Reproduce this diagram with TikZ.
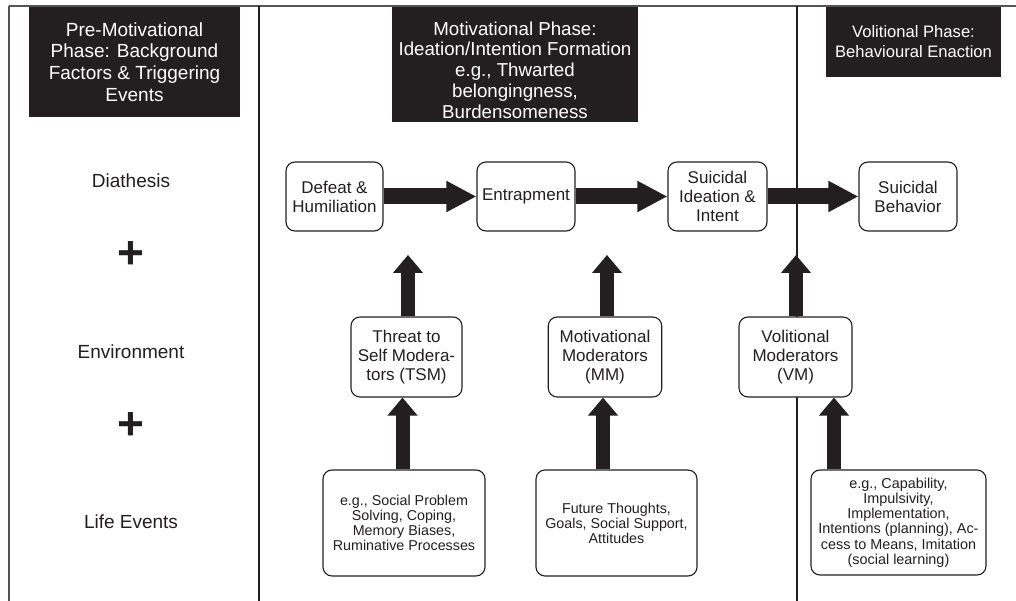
\documentclass[tikz,border=0pt]{standalone}
\usepackage{fontspec}
\setmainfont{Liberation Sans}
\usetikzlibrary{arrows.meta,calc}
\definecolor{ink}{HTML}{231F20}
\definecolor{framegray}{HTML}{555555}
\tikzset{
  hdr/.style={fill=ink, text=white, inner sep=0pt, align=center},
  box/.style={draw=ink, line width=1.1pt, rounded corners=9pt, fill=white, align=center, inner sep=0pt, text=ink},
  mainf/.style={font=\fontsize{17}{19}\selectfont},
  smallf/.style={font=\fontsize{14.3}{15}\selectfont},
  hbig/.style={line width=16pt, draw=ink, -{Triangle[length=30pt,width=29pt]}},
  vbig/.style={line width=14pt, draw=ink, -{Triangle[length=18pt,width=29pt]}},
  framerule/.style={draw=framegray, line width=1.5pt},
  divrule/.style={draw=ink, line width=1.2pt},
  side/.style={text=ink, font=\fontsize{19}{22}\selectfont},
  plussign/.style={text=ink, inner sep=0pt, font=\fontsize{46}{46}\selectfont\bfseries},
}
\begin{document}
\begin{tikzpicture}[x=1pt,y=-1pt]
\useasboundingbox (0,0) rectangle (1016,601);
\fill[white] (0,0) rectangle (1016,601);
% frame and dividers
\draw[framerule] (9,6) -- (1016,6);
\draw[framerule] (9,6) -- (9,601);
\draw[divrule] (259,6) -- (259,601);
\draw[divrule] (797,6) -- (797,601);
% headers
\node[hdr, minimum width=211pt, minimum height=110pt, font=\fontsize{19}{21.7}\selectfont] (h1) at (134.5,62)
  {Pre-Motivational\\Phase: Background\\Factors \& Triggering\\Events};
\node[hdr, minimum width=246pt, minimum height=115pt] (h2) at (515,64.5) {};
\node[text=white, inner sep=0pt, align=center, font=\fontsize{18.7}{20.8}\selectfont] (h2t) at (515,70)
  {Motivational Phase:\\Ideation/Intention Formation\\e.g., Thwarted\\belongingness,\\Burdensomeness};
\node[hdr, minimum width=175pt, minimum height=70pt, font=\fontsize{16.6}{20}\selectfont] (h3) at (913.5,42)
  {Volitional Phase:\\Behavioural Enaction};
% left column
\node[side] (dia) at (131,181) {Diathesis};
\node[plussign] (p1) at (131,255) {+};
\node[side] (env) at (131,352) {Environment};
\node[plussign] (p2) at (131,426) {+};
\node[side] (life) at (131,522) {Life Events};
% main chain
\node[box, mainf, minimum width=97pt, minimum height=69pt] (d) at (334.5,196.5) {Defeat \&\\Humiliation};
\node[box, mainf, minimum width=98pt, minimum height=69pt] (e) at (526,196.5) {Entrapment};
\node[box, mainf, minimum width=99pt, minimum height=69pt] (si) at (717.5,196.5) {Suicidal\\Ideation \&\\Intent};
\node[box, mainf, minimum width=98pt, minimum height=69pt] (sb) at (908,196.5) {Suicidal\\Behavior};
\draw[hbig] (d.east) -- (e.west);
\draw[hbig] (e.east) -- (si.west);
\draw[hbig] (si.east) -- (sb.west);
% moderators
\node[box, mainf, minimum width=111pt, minimum height=80pt] (tsm) at (406.5,357) {Threat to\\Self Modera-\\tors (TSM)};
\node[box, mainf, minimum width=113.5pt, minimum height=80pt] (mm) at (605,357) {Motivational\\Moderators\\(MM)};
\node[box, mainf, minimum width=113pt, minimum height=80pt] (vm) at (795.5,357) {Volitional\\Moderators\\(VM)};
\coordinate (t1) at (408,255);
\coordinate (t2) at (607,255);
\coordinate (t3) at (796,255);
\draw[vbig] (tsm.north -| t1) -- (t1);
\draw[vbig] (mm.north -| t2) -- (t2);
\draw[vbig] (vm.north -| t3) -- (t3);
% bottom boxes
\node[box, smallf, minimum width=162pt, minimum height=106pt] (tsmb) at (404,523)
  {e.g., Social Problem\\Solving, Coping,\\Memory Biases,\\Ruminative Processes};
\node[box, smallf, minimum width=161pt, minimum height=106pt] (mmb) at (616.5,523)
  {Future Thoughts,\\Goals, Social Support,\\Attitudes};
\node[box, font=\fontsize{14.4}{15.2}\selectfont, minimum width=175pt, minimum height=105pt] (vmb) at (898.5,522.5)
  {e.g., Capability,\\Impulsivity,\\Implementation,\\Intentions (planning), Ac-\\cess to Means, Imitation\\(social learning)};
\coordinate (x1) at (402.5,430);
\coordinate (x2) at (603,430);
\coordinate (x3) at (834,430);
\draw[vbig] (tsmb.north -| x1) -- (tsm.south -| x1);
\draw[vbig] (mmb.north -| x2) -- (mm.south -| x2);
\draw[vbig] (vmb.north -| x3) -- (vm.south -| x3);
\end{tikzpicture}
\end{document}
